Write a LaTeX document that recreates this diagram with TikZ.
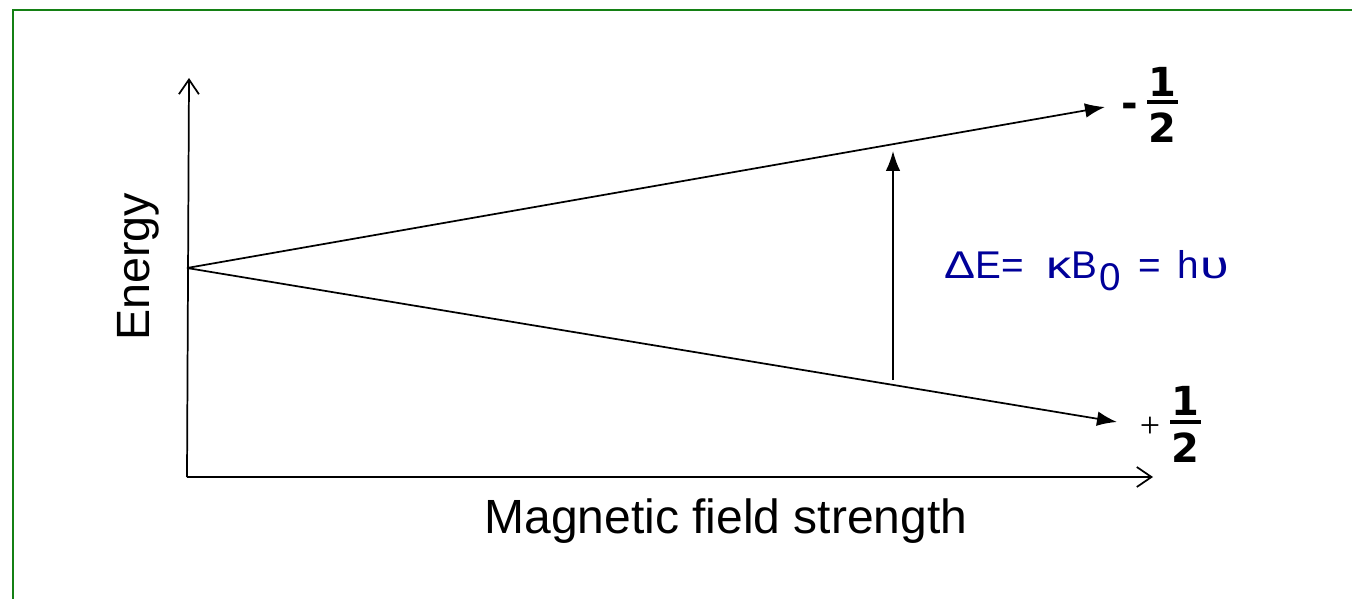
\documentclass[tikz,border=0pt]{standalone}
\usepackage{fontspec}
\usepackage{graphicx}
\setmainfont{Liberation Sans}
\newfontfamily\vfont{DejaVu Sans}
\newfontfamily\serfont{Liberation Serif}
\usetikzlibrary{arrows.meta}
\definecolor{frameg}{RGB}{20,128,20}
\definecolor{navyb}{RGB}{0,0,153}
\begin{document}
\begin{tikzpicture}[x=0.75pt,y=-0.75pt,
  axis/.style={line width=1.3pt,-{Straight Barb[length=11pt,width=15pt,line width=1.3pt]}},
  level/.style={line width=1.3pt,-{Latex[length=15pt,width=11pt]}},
  frac/.style={font=\vfont\bfseries\fontsize{30}{30}\selectfont, inner sep=0pt},
  fbar/.style={line width=3pt}]
\useasboundingbox (0,0) rectangle (1352,599);
\draw[frameg, line width=1.5pt] (13,599) -- (13,10) -- (1352,10);
% coordinates
\coordinate (O) at (187,477);
\coordinate (ytop) at (189,78);
\coordinate (xend) at (1153,477);
\coordinate (src) at (187,268);
\coordinate (up) at (1105,107);
\coordinate (low) at (1117,422);
\coordinate (tb) at (893,380);
\coordinate (tt) at (893,151);
% axes
\draw[axis] (O) -- (ytop);
\draw[axis] (O) -- (xend);
% levels
\draw[level] (src) -- (up);
\draw[level] (src) -- (low);
\draw[level] (tb) -- (tt);
% labels
\node[font=\fontsize{35}{40}\selectfont, rotate=90, anchor=base, inner sep=0pt] (en) at (149,267) {Energy};
\node[font=\fontsize{36}{40}\selectfont, anchor=base, inner sep=0pt] (mf) at (726,533) {Magnetic field strength};
\node[navyb, font=\fontsize{29}{32}\selectfont, anchor=base west, inner sep=0pt] (de) at (944,278)
  {\scalebox{1.2}[1]{Δ}E=\hspace{17pt}\scalebox{1.3}[1]{κ}B\raisebox{-9pt}{\hspace{2pt}0}\hspace{13pt}=\hspace{12pt}h\hspace{1pt}\scalebox{1.35}[1]{υ}};
% fractions
\node[frac, anchor=base] (m1) at (1130,118) {-};
\node[frac, anchor=base] (n1) at (1162,97) {1};
\node[frac, anchor=base] (d1) at (1162,143) {2};
\draw[fbar] (1147,102) -- (1178,102);
\node[font=\serfont\fontsize{27}{30}\selectfont, anchor=base, inner sep=0pt] (p2) at (1150,437) {+};
\node[frac, anchor=base] (n2) at (1185,415) {1};
\node[frac, anchor=base] (d2) at (1185,462) {2};
\draw[fbar] (1170,421.5) -- (1201,421.5);
\end{tikzpicture}
\end{document}
